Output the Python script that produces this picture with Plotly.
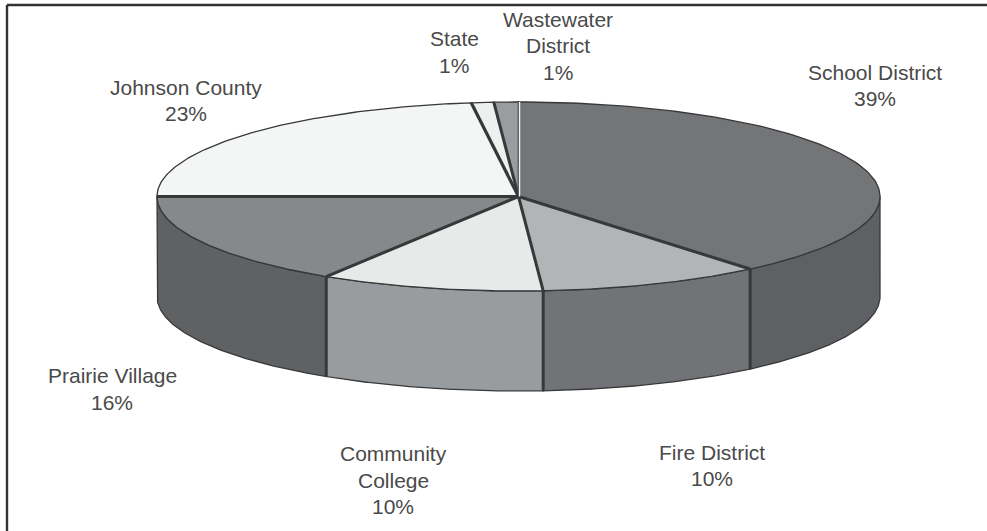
import numpy as np
import plotly.graph_objects as go

# --- data ---
categories = ["School District", "Fire District", "Community College",
              "Prairie Village", "Johnson County", "State", "Wastewater District"]
shares = [39, 10, 10, 16, 23, 1, 1]

# --- style / layout ---
top_colors = ["#747577", "#b3b4b6", "#e8e9e9", "#87888a", "#f4f5f5", "#eef0ef", "#9a9c9f"]
side_colors = ["#5f6063", "#727376", "#999c9e", "#606163", None, None, None]
edge_widths = [3, 3, 3, 3.2, 3.2, 3, 1.4]  # radial line at the start of each following slice
label_lines = {
    "School District": (["School District"], 875, [72]),
    "Fire District": (["Fire District"], 712, [452]),
    "Community College": (["Community", "College"], 393, [453, 480]),
    "Prairie Village": (["Prairie Village"], 112, [375]),
    "Johnson County": (["Johnson County"], 186, [87]),
    "State": (["State"], 454, [38]),
    "Wastewater District": (["Wastewater", "District"], 558, [19, 45]),
}
pct_y = [98, 478, 506, 402, 113, 65, 72]
LINE = "#37383a"
TEXT = "#4a4a4a"
CX, CY, RX, RY, DEPTH = 518.5, 196.5, 361.5, 94.5, 100
ANGLE_NUDGE = -0.32  # degrees, the drawing's slight rotation of the inner dividers


def rim(a0, a1, dy=0.0, n=120):
    t = np.radians(np.linspace(a0, a1, n))
    return CX + RX * np.sin(t), CY - RY * np.cos(t) + dy


def angle_at(a):
    t = np.radians(a)
    return CX + RX * np.sin(t), CY - RY * np.cos(t)


fig = go.Figure()


def poly(x, y, fill, lw=1.3):
    fig.add_trace(go.Scatter(x=list(x), y=list(y), mode="lines", fill="toself", fillcolor=fill,
                             line=dict(color=LINE, width=lw), hoverinfo="skip", showlegend=False))


def seg(x, y, w, color=LINE):
    fig.add_trace(go.Scatter(x=list(x), y=list(y), mode="lines", line=dict(color=color, width=w),
                             hoverinfo="skip", showlegend=False))


edges = np.cumsum([0] + shares) * 3.6
edges[1:-1] += ANGLE_NUDGE * np.abs(np.cos(np.radians(edges[1:-1])))

# side walls (only the front half of the cylinder shows)
for i, col in enumerate(side_colors):
    lo, hi = max(edges[i], 90), min(edges[i + 1], 270)
    if col is None or hi <= lo:
        continue
    x1, y1 = rim(lo, hi)
    x2, y2 = rim(hi, lo, DEPTH)
    poly(np.r_[x1, x2, x1[0]], np.r_[y1, y2, y1[0]], col)

# top faces
for i, col in enumerate(top_colors):
    x, y = rim(edges[i], edges[i + 1])
    poly(np.r_[CX, x, CX], np.r_[CY, y, CY], col)

# heavy radial dividers and their continuation down the wall
for i in range(len(shares)):
    a = edges[i + 1] % 360
    x, y = angle_at(a)
    seg([CX, x], [CY, y], edge_widths[i])
    if 90 < a < 269.5:
        seg([x, x], [y, y + DEPTH], 3)

# the light seam between the last and the first slice
seg([CX + 1, CX + 1], [CY - RY, CY], 1.5, "#f2f2f2")

# labels
for i, name in enumerate(categories):
    lines, lx, ys = label_lines[name]
    for txt, ly in zip(lines + [f"{shares[i]}%"], ys + [pct_y[i]]):
        fig.add_annotation(x=lx, y=ly, text=txt, showarrow=False, xanchor="center", yanchor="middle",
                           font=dict(family="Liberation Sans", size=21, color=TEXT))

# frame: top and left only
fig.add_shape(type="line", x0=7, x1=987, y0=5, y1=5, line=dict(color="#333333", width=2.4))
fig.add_shape(type="line", x0=7, x1=7, y0=5, y1=531, line=dict(color="#333333", width=2.4))

fig.update_layout(
    width=987, height=531, margin=dict(l=0, r=0, t=0, b=0),
    paper_bgcolor="white", plot_bgcolor="white", showlegend=False,
    xaxis=dict(range=[0, 987], visible=False, fixedrange=True),
    yaxis=dict(range=[531, 0], visible=False, fixedrange=True),
)
fig.write_html("out.html", config={"displayModeBar": False},
               post_script="document.body.style.margin='0';document.documentElement.style.overflow='hidden';")
